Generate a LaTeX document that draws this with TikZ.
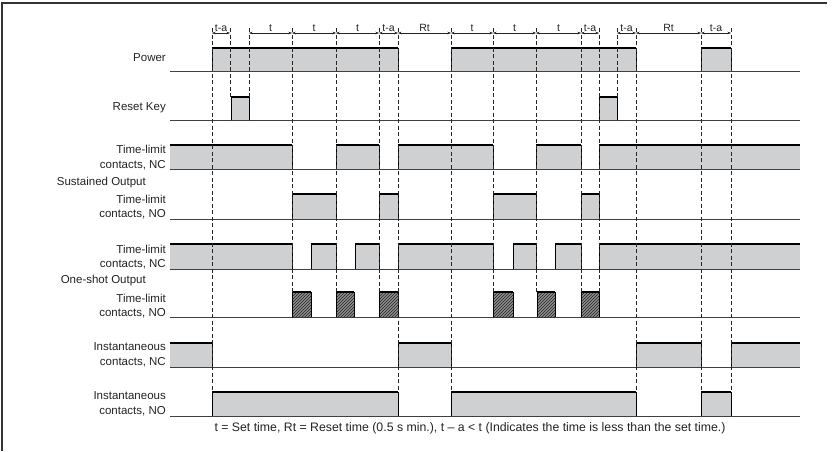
\documentclass[tikz,border=0pt]{standalone}
\usepackage{fontspec}
\setmainfont{Liberation Sans}
\usetikzlibrary{arrows.meta, patterns}
\definecolor{sigfill}{RGB}{206,208,210}
\definecolor{inkgray}{RGB}{35,35,35}

% one signal row: [fill style]{base y}{high y}{pulses a/b}
\newcommand{\sigrow}[4][sig]{%
  \draw[baseln] (170,#2) -- (800,#2);
  \foreach \a/\b in {#4} {
    \path[#1] (\a,#2) rectangle (\b,#3);
    \ifnum\a>170 \draw[edge] (\a,#2) -- (\a,#3); \fi
    \ifnum\b<800 \draw[edge] (\b,#2) -- (\b,#3); \fi
    \draw[topln] (\a,#3) -- (\b,#3);
  }}

\begin{document}
\begin{tikzpicture}[x=1pt, y=-1pt,
    lbl/.style={anchor=east, align=right, inner sep=0pt, text=inkgray,
                font=\fontsize{11.5}{14.5}\selectfont},
    sig/.style={fill=sigfill},
    hatch/.style={fill=black!45, postaction={pattern=north east lines, pattern color=black!85}},
    baseln/.style={line width=0.8pt, black!75},
    edge/.style={line width=0.9pt, black},
    topln/.style={line width=2pt, black},
    guide/.style={line width=0.8pt, black!85, dash pattern=on 4pt off 2.5pt},
    dim/.style={{Stealth[length=3.5pt,width=2.5pt]}-{Stealth[length=3.5pt,width=2.5pt]}, line width=0.4pt, inkgray},
    dimlbl/.style={above, inner sep=1pt, text=inkgray, font=\fontsize{10.5}{12}\selectfont}]
    \useasboundingbox (0,0) rectangle (832,451);
    \draw[line width=1.2pt, black!80] (2,451) -- (2,3) -- (827,3);

    % labels
    \node[lbl] (power) at (166,58) {Power};
    \node[lbl] (reset) at (166,108) {Reset Key};
    \node[lbl] (susnc) at (166,157.5) {Time-limit\\contacts, NC};
    \node[lbl] (sus) at (146,183) {Sustained Output};
    \node[lbl] (susno) at (166,207) {Time-limit\\contacts, NO};
    \node[lbl] (oneshnc) at (166,257) {Time-limit\\contacts, NC};
    \node[lbl] (onesh) at (146,281) {One-shot Output};
    \node[lbl] (oneshno) at (166,306) {Time-limit\\contacts, NO};
    \node[lbl] (instnc) at (166,355) {Instantaneous\\contacts, NC};
    \node[lbl] (instno) at (166,404) {Instantaneous\\contacts, NO};

    % signal rows
    \sigrow{71}{48}{212/398, 451/636, 701/731}
    \sigrow{120}{97}{231/249, 599/617}
    \sigrow{169}{145}{170/292, 336/379, 398/493, 536/581, 599/800}
    \sigrow{219}{194}{292/336, 379/398, 493/536, 581/599}
    \sigrow{269}{244}{170/292, 311/336, 355/379, 398/493, 513/536, 555/581, 599/800}
    \sigrow[hatch]{317}{292}{292/311, 336/354, 379/398, 493/513, 537/555, 581/599}
    \sigrow{367}{343}{170/212, 398/451, 636/701, 731/800}
    \sigrow{416}{392}{212/398, 451/636, 701/731}

    % timing guides
    \foreach \x/\e in {212/392, 230/97, 249/97, 292/292, 336/292, 379/292, 398/392, 451/392,
                       493/292, 536/292, 581/292, 599/292, 617/97, 636/392, 701/392, 731/392}
        \draw[guide] (\x,28) -- (\x,\e);

    % dimensions
    \foreach \x in {212,230,249,292,336,379,398,451,493,536,581,599,617,636,701,731}
        \coordinate (m\x) at (\x,33);
    \foreach \a/\b/\l in {212/230/t-a, 249/292/t, 292/336/t, 336/379/t, 379/398/t-a, 398/451/Rt,
                          451/493/t, 493/536/t, 536/581/t, 581/599/t-a, 617/636/t-a, 636/701/Rt, 701/731/t-a}
        \draw[dim] (m\a) -- node[dimlbl] {\l} (m\b);

    \node[text=inkgray, font=\fontsize{12.3}{14}\selectfont] (note) at (470,428)
        {t = Set time, Rt = Reset time (0.5 s min.), t -- a < t (Indicates the time is less than the set time.)};
\end{tikzpicture}
\end{document}
